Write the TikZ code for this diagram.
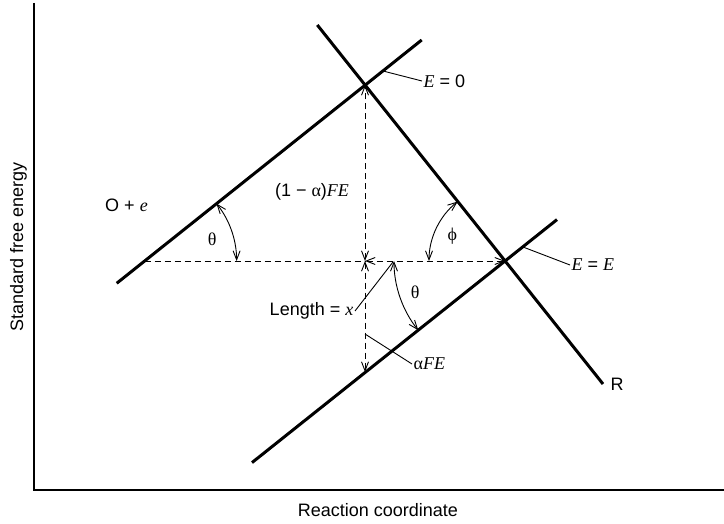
\documentclass[tikz,border=0pt]{standalone}
\usepackage{fontspec}
\setmainfont{Liberation Sans}
\newfontfamily\varfont{Liberation Serif}
\usepackage{tikz}
\usetikzlibrary{arrows.meta,calc}
\newcommand{\vr}[1]{{\varfont\itshape #1}}
\newcommand{\gk}[1]{{\varfont #1}}
\tikzset{
  axisline/.style={line width=1.6pt},
  eline/.style={line width=3pt},
  dimline/.style={dash pattern=on 6pt off 4pt, line width=0.9pt},
  dimarr/.style={dimline, {Straight Barb[length=9pt,width=7pt]}-{Straight Barb[length=9pt,width=7pt]}},
  leader/.style={line width=0.9pt},
  angarr/.style={line width=0.9pt, {Straight Barb[length=9pt,width=7pt]}-{Straight Barb[length=9pt,width=7pt]}},
  lbl/.style={font=\fontsize{18}{20}\selectfont, inner sep=1.5pt}
}

\begin{document}
\begin{tikzpicture}[x=1pt,y=1pt]

\useasboundingbox (0,0) rectangle (724,523);

\coordinate (origin) at (34,33);
\draw[axisline] (34,520) -- (origin) -- (724,33);
\node[lbl, rotate=90] (ylab) at (18.5,276) {Standard free energy};
\node[lbl] (xlab) at (378,13) {Reaction coordinate};

\coordinate (A) at (365,438);
\coordinate (B) at (505,262);
\coordinate (C) at (144.6,262);
\coordinate (D) at (365,262);
\coordinate (E) at (365,151);

\draw[eline] (116.7,239.7) -- (421.7,483);
\draw[eline] (252,60.4) -- (557,303.4);
\draw[eline] (317.3,498) -- (603,139);

\draw[dimline] (C) -- (D);
\draw[dimarr] (D) -- (A);
\draw[dimarr] (D) -- (E);
\draw[dimarr] (D) -- (B);

\draw[angarr] ($(C)+(0:92)$) arc[start angle=0, end angle=38.6, radius=92];
\draw[angarr] ($(B)+(128.5:76)$) arc[start angle=128.5, end angle=180, radius=76];
\draw[angarr] ($(B)+(180:111)$) arc[start angle=180, end angle=218.6, radius=111];
\node[lbl] (th1) at ($(C)+(18:71)$) {\gk{θ}};
\node[lbl] (ph) at ($(B)+(155:58)$) {\gk{ϕ}};
\node[lbl] (th2) at ($(B)+(199:95)$) {\gk{θ}};

\node[lbl] (lblOe) at (126.5,318) {O + \vr{e}};
\node[lbl] (lblR) at (617,139) {R};
\node[lbl] (lblFE) at (312,331) {(1 − \gk{α})\vr{FE}};

\coordinate (e0pt) at (383,452);
\coordinate (eept) at (523,276);
\coordinate (lenpt) at (393,261);
\coordinate (afept) at (365,189);
\node[lbl, anchor=west] (lblE0) at (422,442) {\vr{E} = 0};
\node[lbl, anchor=west] (lblEE) at (570,258) {\vr{E} = \vr{E}};
\node[lbl, anchor=east] (lblLen) at (355,212) {Length = \vr{x}};
\node[lbl, anchor=west] (lblaFE) at (412,159) {\gk{α}\vr{FE}};
\draw[leader] (e0pt) -- (lblE0.west);
\draw[leader] (eept) -- (lblEE.west);
\draw[leader] (lenpt) -- (lblLen.east);
\draw[leader] (afept) -- (lblaFE.west);

\end{tikzpicture}
\end{document}
